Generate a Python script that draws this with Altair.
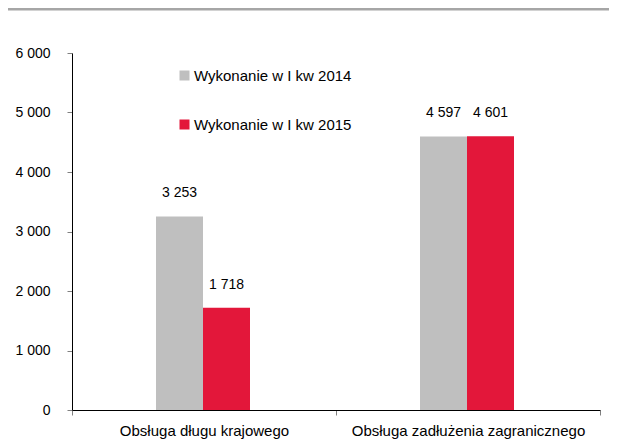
import altair as alt
import pandas as pd

categories = ["Obsługa długu krajowego", "Obsługa zadłużenia zagranicznego"]
series = ["Wykonanie w I kw 2014", "Wykonanie w I kw 2015"]
values_2014 = [3253, 4597]
values_2015 = [1718, 4601]
colors = ["#bfbfbf", "#e3173a"]
y_ticks = [0, 1000, 2000, 3000, 4000, 5000, 6000]

rows = []
for i, c in enumerate(categories):
    rows.append({"cat": c, "series": series[0], "value": values_2014[i]})
    rows.append({"cat": c, "series": series[1], "value": values_2015[i]})
df = pd.DataFrame(rows)

FONT = "Liberation Sans"

x_enc = alt.X("cat:N", sort=categories, title=None,
              scale=alt.Scale(paddingInner=0, paddingOuter=0),
              axis=alt.Axis(labelAngle=0, labelFontSize=15, labelFont=FONT, labelColor="#000000",
                            domainColor="#000000", tickColor="#808080", tickSize=5,
                            tickBand="extent", labelPadding=8, labelLimit=0))
xoff = alt.XOffset("series:N", sort=series,
                   scale=alt.Scale(paddingInner=0, paddingOuter=0, range=[84, 178]))

base = alt.Chart(df)

bars = base.mark_bar().encode(
    x=x_enc,
    xOffset=xoff,
    y=alt.Y("value:Q", title=None,
            scale=alt.Scale(domain=[0, 6000], nice=False),
            axis=alt.Axis(values=y_ticks, grid=False, labelFontSize=14, labelFont=FONT,
                          labelColor="#000000", domainColor="#000000", tickColor="#808080",
                          tickSize=5, labelPadding=17,
                          labelExpr="replace(format(datum.value, ','), ',', ' ')")),
    color=alt.Color("series:N", sort=series, title=None,
                    scale=alt.Scale(domain=series, range=colors),
                    legend=alt.Legend(orient="none", legendX=105, legendY=15, padding=0,
                                      symbolType="square", symbolSize=100, symbolStrokeWidth=0,
                                      labelFontSize=15, labelFont=FONT, labelColor="#000000",
                                      rowPadding=33, labelOffset=2, labelLimit=0)),
)

labels = base.transform_calculate(
    lbl="replace(format(datum.value, ','), ',', ' ')"
).mark_text(baseline="bottom", dy=-16, fontSize=14, font=FONT, color="#000000").encode(
    x=alt.X("cat:N", sort=categories),
    xOffset=xoff,
    y=alt.Y("value:Q"),
    text="lbl:N",
)

top_rule = alt.Chart(pd.DataFrame({"a": [0]})).mark_rule(color="#a6a6a6", strokeWidth=3).encode(
    x=alt.value(-64), x2=alt.value(537), y=alt.value(-44)
)

chart = alt.layer(bars, labels, top_rule).properties(
    width=528, height=357,
    autosize=alt.AutoSizeParams(type="none"),
    padding={"left": 64, "top": 45, "right": 9, "bottom": 30},
).configure_view(stroke=None)

chart.save("out.html", embed_options={"renderer": "svg", "actions": False})
